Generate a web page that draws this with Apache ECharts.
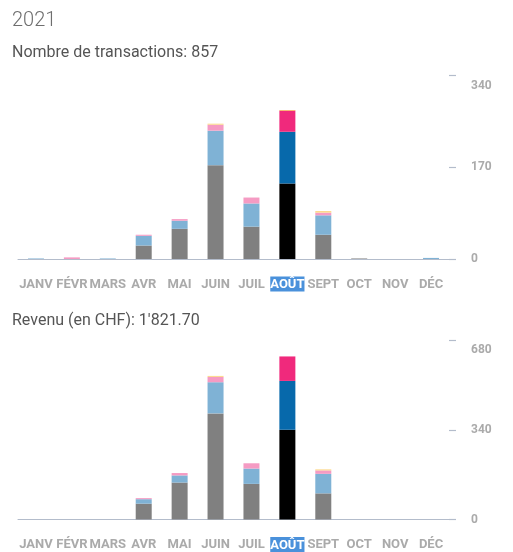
<!DOCTYPE html>
<html>
<head>
<meta charset="utf-8">
<script src="https://cdn.jsdelivr.net/npm/echarts@6/dist/echarts.min.js"></script>
<style>
html,body{margin:0;padding:0;background:#fff;}
#c{width:513px;height:552px;}
</style>
</head>
<body>
<div id="c"></div>
<script>
const months = ['JANV','FÉVR','MARS','AVR','MAI','JUIN','JUIL','AOÛT','SEPT','OCT','NOV','DÉC'];
const highlightIndex = 7;

// Nombre de transactions
const txBase   = [0,0,0,25,56,174,60,140,45,1,0,0];
const txSecond = [1,0,1,18,15,64,43,96,36,0,0,2];
const txThird  = [0,3,0,2,3,11,11,39,5,0,0,0];
const txFourth = [0,0,0,0,0,2,0,1,3,0,0,0];
const txTicks = [0,170,340];

// Revenu (en CHF)
const revBase   = [0,0,0,60,140,402,135,340,99,0,0,0];
const revSecond = [0,0,0,17,27,118,58,185,74,0,0,0];
const revThird  = [0,0,0,4,9,20,20,92.7,13,0,0,0];
const revFourth = [0,0,0,0,0,4,0,0,4,0,0,0];
const revTicks = [0,340,680];

const colors = ['#808080','#7fb2d5','#f59bc3','#fcd98c'];
const hiColors = ['#000000','#0769ab','#f0297c','#f5a623'];

function mk(arr, k){
  return arr.map((v,i)=> i===highlightIndex ? {value:v,itemStyle:{color:hiColors[k]}} : v);
}
const font = 'Roboto, "Noto Sans", sans-serif';
function xAxis(gi){
  return {
    type:'category', gridIndex:gi, data:months,
    axisLine:{lineStyle:{color:'#b3bccb',width:1}},
    axisTick:{show:false},
    axisLabel:{
      interval:0, margin:19, color:'#aaaaaa', fontWeight:'bold', fontSize:13, fontFamily:font,
      formatter:(v,i)=> i===highlightIndex ? '{h|'+v+'}' : v,
      rich:{h:{backgroundColor:'#4a91db',color:'#ffffff',fontWeight:'bold',fontSize:13,fontFamily:font,lineHeight:12,padding:[2,0,0,0]}}
    }
  };
}
function yAxis(gi, ticks){
  const mx = ticks[ticks.length-1];
  return {
    type:'value', gridIndex:gi, position:'right', min:0, max:mx, interval:ticks[1]-ticks[0],
    axisLine:{show:false},
    axisTick:{show:true,length:7,lineStyle:{color:'#b3bccb',width:1.2}},
    splitLine:{show:false},
    axisLabel:{
      margin:22, color:'#aaaaaa', fontWeight:'bold', fontSize:12, fontFamily:font,
      formatter:v=> v===mx ? '{m|'+v+'}' : '{n|'+v+'}',
      rich:{
        m:{padding:[20,0,0,0],color:'#aaaaaa',fontWeight:'bold',fontSize:12,fontFamily:font},
        n:{color:'#aaaaaa',fontWeight:'bold',fontSize:12,fontFamily:font}
      }
    }
  };
}
function series(gi, arrs, stack){
  return arrs.map((a,k)=>({
    type:'bar', xAxisIndex:gi, yAxisIndex:gi, stack:stack, barWidth:16,
    itemStyle:{color:colors[k]}, data:mk(a,k), silent:true
  }));
}
const chart = echarts.init(document.getElementById('c'), null, {renderer:'canvas'});
chart.setOption({
  animation:false,
  title:[
    {text:'2021', left:12, top:11, padding:0, textStyle:{fontSize:20, fontWeight:300, color:'#6e6e6e', fontFamily:font}},
    {text:'Nombre de transactions: 857', left:12, top:45, padding:0, textStyle:{fontSize:16, fontWeight:'normal', color:'#555555', fontFamily:font}},
    {text:"Revenu (en CHF): 1'821.70", left:12, top:313, padding:0, textStyle:{fontSize:16, fontWeight:'normal', color:'#555555', fontFamily:font}}
  ],
  grid:[
    {left:18, right:64, top:75.7, bottom:293},
    {left:18, right:64, top:340, bottom:30.3}
  ],
  xAxis:[xAxis(0), xAxis(1)],
  yAxis:[yAxis(0, txTicks), yAxis(1, revTicks)],
  series:[].concat(
    series(0,[txBase,txSecond,txThird,txFourth],'tx'),
    series(1,[revBase,revSecond,revThird,revFourth],'rev')
  )
});
</script>
</body>
</html>
